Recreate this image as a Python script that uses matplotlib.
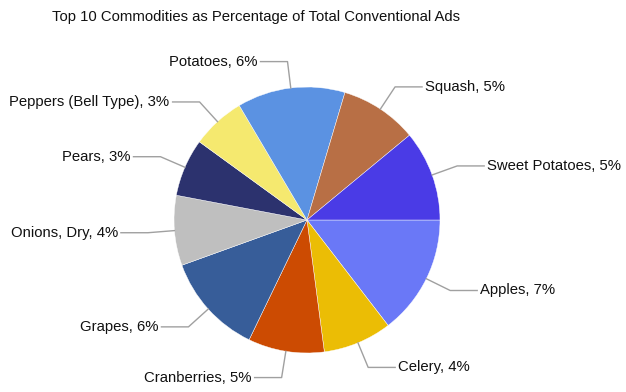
import numpy as np
import matplotlib
matplotlib.use("Agg")
import matplotlib.pyplot as plt

plt.rcParams['font.family'] = ['Liberation Sans', 'DejaVu Sans']

categories = ["Apples", "Celery", "Cranberries", "Grapes", "Onions, Dry", "Pears",
              "Peppers (Bell Type)", "Potatoes", "Squash", "Sweet Potatoes"]
values = [6.99, 4.01, 4.44, 5.91, 4.08, 3.37, 3.12, 6.29, 4.51, 5.28]
label_pct = [7, 4, 5, 6, 4, 3, 3, 6, 5, 5]
colors = ['#6a78f7', '#ebbd05', '#cc4b02', '#375d99', '#bfbfbf',
          '#2c326e', '#f5e96f', '#5b92e2', '#b86f45', '#4a3be6']
title = "Top 10 Commodities as Percentage of Total Conventional Ads"

W, H = 626, 392
fig = plt.figure(figsize=(W / 100, H / 100), dpi=100)
ax = fig.add_axes([0, 0, 1, 1])
cx, cy, r = 307, H - 220, 133
wedges, _ = ax.pie(values, colors=colors, startangle=0, counterclock=False,
                   center=(cx, cy), radius=r,
                   wedgeprops=dict(linewidth=0.3, edgecolor='white'))
ax.set_xlim(0, W)
ax.set_ylim(0, H)
ax.axis('off')

for w, name, p in zip(wedges, categories, label_pct):
    mid = np.deg2rad((w.theta1 + w.theta2) / 2)
    c, s = np.cos(mid), np.sin(mid)
    x0, y0 = cx + r * c, cy + r * s
    x1, y1 = cx + 1.2 * r * c, cy + 1.2 * r * s
    d = 1 if c >= 0 else -1
    x2 = x1 + d * 27
    ax.plot([x0, x1, x2], [y0, y1, y1], color='#a0a0a0', lw=1.0)
    ax.text(x1 + d * 30, y1, f"{name}, {p}%", ha='left' if d > 0 else 'right',
            va='center', fontsize=10.7, color='#111111')

fig.text(255.6 / W, 1 - 17 / H, title, ha='center', va='center',
         fontsize=10.7, color='#111111')

fig.savefig("out.png", dpi=100)
